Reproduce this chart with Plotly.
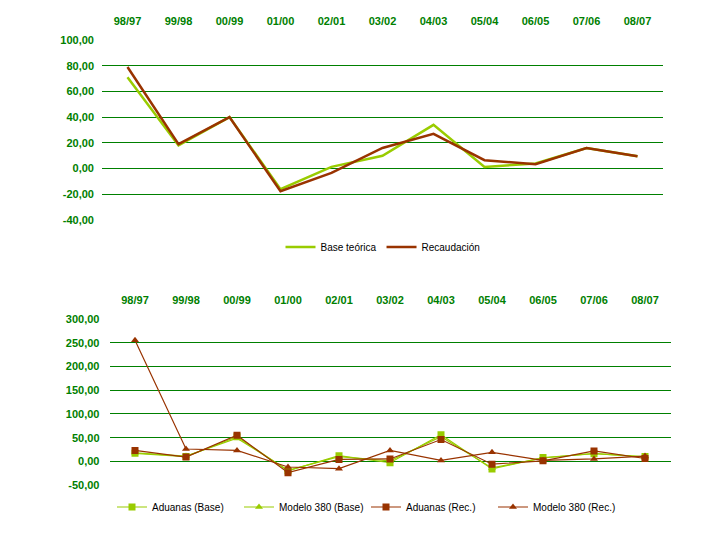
import plotly.graph_objects as go

categories = ["98/97", "99/98", "00/99", "01/00", "02/01", "03/02", "04/03", "05/04", "06/05", "07/06", "08/07"]

# Top chart
base_teorica = [71, 18, 40, -16, 1.3, 10, 34, 1.3, 3.9, 16, 9.6]
recaudacion = [79, 19, 40, -17.6, -3.4, 16, 27, 6.5, 3.4, 16, 9.6]
top_ticks = [100, 80, 60, 40, 20, 0, -20, -40]
top_ticktext = ["100,00", "80,00", "60,00", "40,00", "20,00", "0,00", "-20,00", "-40,00"]

# Bottom chart
aduanas_base = [17, 10, 52, -20, 12, -3, 56, -16, 8, 16, 10]
modelo_base = [18, 11, 49, -19, 10, 1, 52, -14, 7, 17, 9]
aduanas_rec = [23, 9, 55, -24, 4, 5, 46, -6, 1, 22, 6]
modelo_rec = [256, 26, 23, -12, -15.5, 23, 2, 19, 2, 5, 11]
bot_ticks = [300, 250, 200, 150, 100, 50, 0, -50]
bot_ticktext = ["300,00", "250,00", "200,00", "150,00", "100,00", "50,00", "0,00", "-50,00"]

GREEN = "#99CC00"
RED = "#993300"
GRID = "#008000"
FONT = "Liberation Sans, Arial, sans-serif"

# page body adds an 8px offset
OFF = 8

def px_x(v):
    return (v - OFF) / 720

def px_y(v):
    return 1 - (v - OFF) / 540

fig = go.Figure()

fig.add_trace(go.Scatter(x=categories, y=base_teorica, name="Base teórica", mode="lines",
                         line=dict(color=GREEN, width=2.5), xaxis="x", yaxis="y", legend="legend"))
fig.add_trace(go.Scatter(x=categories, y=recaudacion, name="Recaudación", mode="lines",
                         line=dict(color=RED, width=2.5), xaxis="x", yaxis="y", legend="legend"))

fig.add_trace(go.Scatter(x=categories, y=aduanas_base, name="Aduanas (Base)", mode="lines+markers",
                         line=dict(color=GREEN, width=1.2), marker=dict(symbol="square", size=7, color=GREEN),
                         xaxis="x2", yaxis="y2", legend="legend2"))
fig.add_trace(go.Scatter(x=categories, y=modelo_base, name="Modelo 380 (Base)", mode="lines+markers",
                         line=dict(color=GREEN, width=1.2), marker=dict(symbol="triangle-up", size=7, color=GREEN),
                         xaxis="x2", yaxis="y2", legend="legend2"))
fig.add_trace(go.Scatter(x=categories, y=aduanas_rec, name="Aduanas (Rec.)", mode="lines+markers",
                         line=dict(color=RED, width=1.2), marker=dict(symbol="square", size=7, color=RED),
                         xaxis="x2", yaxis="y2", legend="legend2"))
fig.add_trace(go.Scatter(x=categories, y=modelo_rec, name="Modelo 380 (Rec.)", mode="lines+markers",
                         line=dict(color=RED, width=1.2), marker=dict(symbol="triangle-up", size=7, color=RED),
                         xaxis="x2", yaxis="y2", legend="legend2"))

tickfont = dict(family=FONT, size=11, color=GRID, weight="bold")

fig.update_layout(
    width=720, height=540,
    margin=dict(l=0, r=0, t=0, b=0, autoexpand=False),
    paper_bgcolor="white", plot_bgcolor="white",
    font=dict(family=FONT, size=10, color="black"),
    xaxis=dict(domain=[px_x(102), px_x(663)], anchor="y", side="top", type="category",
               range=[-0.5, 10.5], automargin=False,
               showgrid=False, zeroline=False, showline=False, ticks="",
               tickfont=tickfont, ticklabelstandoff=12),
    yaxis=dict(domain=[px_y(220), px_y(40)], anchor="x", range=[-40, 100], automargin=False,
               tickvals=top_ticks, ticktext=top_ticktext, tickfont=tickfont,
               showgrid=True, gridcolor=GRID, gridwidth=1, zeroline=False, showline=False,
               ticks="", ticklabelstandoff=7),
    xaxis2=dict(domain=[px_x(109.5), px_x(670.5)], anchor="y2", side="top", type="category",
                range=[-0.5, 10.5], automargin=False,
                showgrid=False, zeroline=False, showline=False, ticks="",
                tickfont=tickfont, ticklabelstandoff=12),
    yaxis2=dict(domain=[px_y(485), px_y(319.3)], anchor="x2", range=[-50, 300], automargin=False,
                tickvals=bot_ticks, ticktext=bot_ticktext, tickfont=tickfont,
                showgrid=True, gridcolor=GRID, gridwidth=1, zeroline=False, showline=False,
                ticks="", ticklabelstandoff=9),
    legend=dict(orientation="h", x=px_x(383), xanchor="center", y=px_y(247), yanchor="middle",
                font=dict(family=FONT, size=10, color="black"), itemwidth=30,
                bgcolor="rgba(0,0,0,0)"),
    legend2=dict(orientation="h", x=px_x(112), xanchor="left", y=px_y(507), yanchor="middle",
                 font=dict(family=FONT, size=10, color="black"), itemwidth=30,
                 entrywidth=82, entrywidthmode="pixels", bgcolor="rgba(0,0,0,0)"),
    showlegend=True,
)

fig.write_html("out.html")
